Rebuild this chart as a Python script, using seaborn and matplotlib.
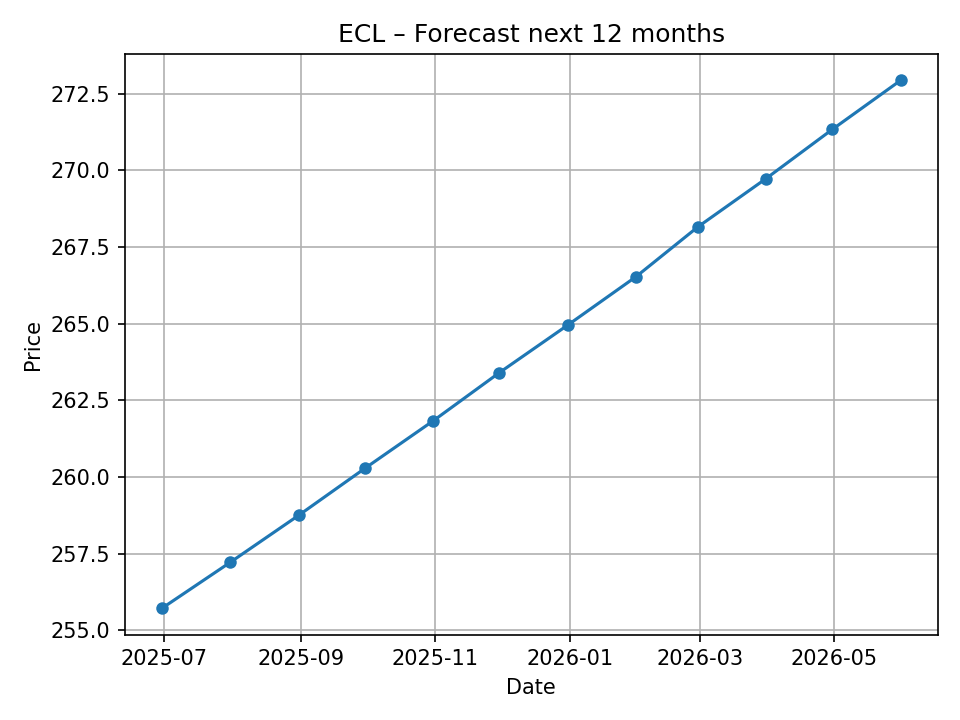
import pandas as pd
import matplotlib
matplotlib.use("Agg")
import matplotlib.pyplot as plt
import seaborn as sns

# month-end forecast dates and prices
dates = pd.date_range("2025-06-30", periods=12, freq="ME")
prices = [255.72, 257.22, 258.75, 260.28, 261.83, 263.40,
          264.95, 266.53, 268.15, 269.73, 271.33, 272.93]

df = pd.DataFrame({"Date": dates, "Price": prices})

fig, ax = plt.subplots(figsize=(6.4, 4.8), dpi=150)
sns.lineplot(data=df, x="Date", y="Price", marker="o", markersize=6,
             markeredgewidth=0, color="#1f77b4", linewidth=1.5, ax=ax)
ax.set_title("ECL – Forecast next 12 months")
ax.set_xlabel("Date")
ax.set_ylabel("Price")
ax.grid(True, color="#b0b0b0", linewidth=0.8)
plt.tight_layout()
fig.savefig("out.png")
